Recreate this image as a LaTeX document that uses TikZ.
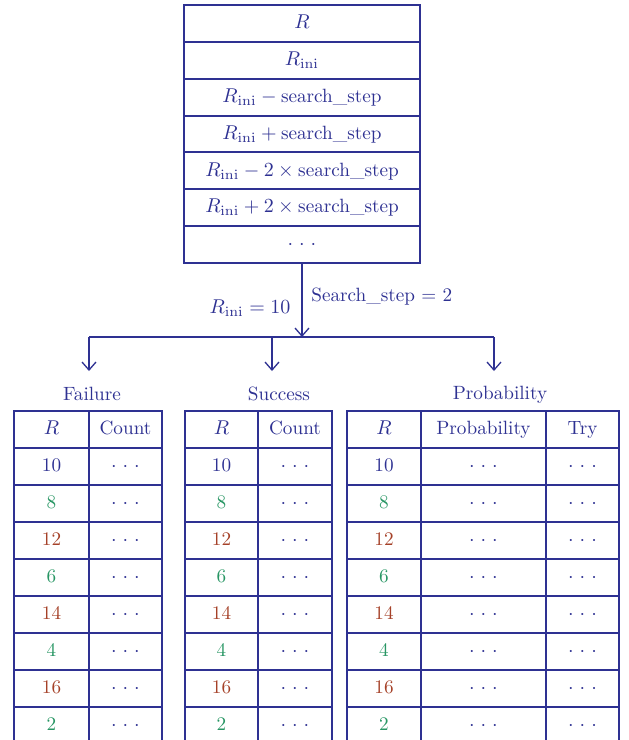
\documentclass[tikz,border=0pt]{standalone}
\usetikzlibrary{arrows.meta}
\definecolor{navy}{RGB}{46,49,146}
\definecolor{rgreen}{RGB}{40,150,100}
\definecolor{rred}{RGB}{165,65,40}
\newcommand{\mydots}{${\cdot}\hspace{3pt}{\cdot}\hspace{3pt}{\cdot}$}
\begin{document}
\begin{tikzpicture}[x=0.5pt,y=-0.5pt,
  font=\fontsize{9.6}{11}\selectfont,
  every node/.style={text=navy},
  cell/.style={draw=navy, line width=1pt, inner sep=0pt, minimum height=18.5pt, text height=1.6ex, text depth=0.4ex},
  topcell/.style={draw=navy, line width=1pt, inner sep=0pt, minimum height=18.43pt, minimum width=118pt, text height=1.6ex, text depth=0.4ex},
  conn/.style={draw=navy, line width=0.65pt},
  arr/.style={conn, -{Straight Barb[length=4pt,width=7pt,line width=0.65pt]}}]
\useasboundingbox (0,0) rectangle (628,740);
\clip (0,0) rectangle (628,740);
% top box
\foreach \t [count=\i from 0] in {$R$, $R_{\mathrm{ini}}$, $R_{\mathrm{ini}} - \mbox{search\_step}$, $R_{\mathrm{ini}} + \mbox{search\_step}$, $R_{\mathrm{ini}} - 2\times\mbox{search\_step}$, $R_{\mathrm{ini}} + 2\times\mbox{search\_step}$, \mydots}
  \node[topcell] (b\i) at (302,{5+36.86*(\i+0.5)}) {\t};
% connectors
\coordinate (j) at (302,337);
\coordinate (jl) at (89,337);
\coordinate (jm) at (272,337);
\coordinate (jr) at (494,337);
\coordinate (af) at (89,371);
\coordinate (as) at (272,371);
\coordinate (ap) at (494,371);
\draw[arr] (b6.south) -- (j);
\draw[conn] (jl) -- (jr);
\draw[arr] (jl) -- (af);
\draw[arr] (jm) -- (as);
\draw[arr] (jr) -- (ap);
\node (lr) at (250,308) {$R_{\mathrm{ini}} = 10$};
\node[anchor=west,inner sep=0pt] (ls) at (311,297) {Search\_step = 2};
% titles
\node (tf) at (92,394) {Failure};
\node (ts) at (279,394) {Success};
\node (tp) at (500,395) {Probability};
% tables with two columns
\foreach \tb/\xa/\xb/\xc in {f/14/89/162, s/185/258/332} {
  \node[cell, minimum width={(\xb-\xa)*0.5pt}] (\tb-h1) at ({(\xa+\xb)/2},429.5) {$R$};
  \node[cell, minimum width={(\xc-\xb)*0.5pt}] (\tb-h2) at ({(\xb+\xc)/2},429.5) {Count};
  \foreach \v/\c [count=\r] in {10/navy, 8/rgreen, 12/rred, 6/rgreen, 14/rred, 4/rgreen, 16/rred, 2/rgreen} {
    \node[cell, minimum width={(\xb-\xa)*0.5pt}, text=\c] (\tb-r\r-1) at ({(\xa+\xb)/2},{411+37*(\r+0.5)}) {\v};
    \node[cell, minimum width={(\xc-\xb)*0.5pt}] (\tb-r\r-2) at ({(\xb+\xc)/2},{411+37*(\r+0.5)}) {\mydots};
  }
}
% probability table
\node[cell, minimum width=37pt] (p-h1) at (384,429.5) {$R$};
\node[cell, minimum width=62.5pt] (p-h2) at (483.5,429.5) {Probability};
\node[cell, minimum width=36.5pt] (p-h3) at (582.5,429.5) {Try};
\foreach \v/\c [count=\r] in {10/navy, 8/rgreen, 12/rred, 6/rgreen, 14/rred, 4/rgreen, 16/rred, 2/rgreen} {
  \node[cell, minimum width=37pt, text=\c] (p-r\r-1) at (384,{411+37*(\r+0.5)}) {\v};
  \node[cell, minimum width=62.5pt] (p-r\r-2) at (483.5,{411+37*(\r+0.5)}) {\mydots};
  \node[cell, minimum width=36.5pt] (p-r\r-3) at (582.5,{411+37*(\r+0.5)}) {\mydots};
}
\end{tikzpicture}
\end{document}
